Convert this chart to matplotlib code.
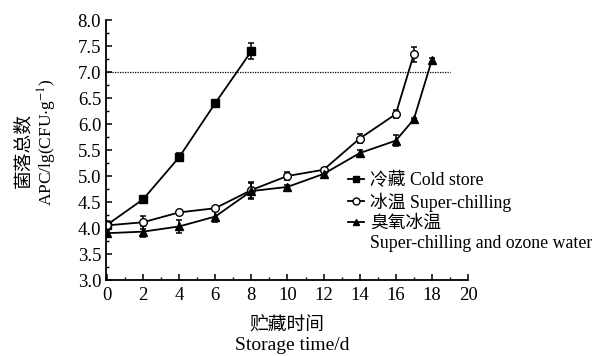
import matplotlib
matplotlib.use("Agg")
import matplotlib.pyplot as plt
from matplotlib.lines import Line2D
from matplotlib.ticker import MultipleLocator

plt.rcParams['font.family'] = ['Liberation Serif', 'Noto Sans CJK SC']
plt.rcParams['mathtext.fontset'] = 'stix'

# Data
cold_x = [0, 2, 4, 6, 8]
cold_y = [4.06, 4.55, 5.36, 6.40, 7.40]
cold_err = [0.08, 0.03, 0.08, 0.07, 0.15]

sc_x = [0, 2, 4, 6, 8, 10, 12, 14, 16, 17]
sc_y = [4.05, 4.11, 4.30, 4.38, 4.73, 5.00, 5.12, 5.72, 6.19, 7.34]
sc_err = [0.05, 0.12, 0.03, 0.03, 0.15, 0.08, 0.04, 0.08, 0.07, 0.15]

oz_x = [0, 2, 4, 6, 8, 10, 12, 14, 16, 17, 18]
oz_y = [3.90, 3.93, 4.03, 4.22, 4.71, 4.79, 5.04, 5.44, 5.68, 6.09, 7.23]
oz_err = [0.05, 0.10, 0.13, 0.10, 0.15, 0.03, 0.03, 0.06, 0.10, 0.02, 0.03]

limit_y = 7.0
limit_x = [0, 19]

labels = ['冷藏 Cold store', '冰温 Super-chilling', '臭氧冰温', 'Super-chilling and ozone water']

fig = plt.figure(figsize=(6.07, 3.56), dpi=100)
ax = fig.add_axes([106/607, 1-280/356, (468-106)/607, 260/356])

ax.plot(limit_x, [limit_y, limit_y], color='black', linestyle=(0, (1, 1)), linewidth=0.9)

common = dict(color='black', linewidth=1.3, capsize=2.5, elinewidth=1.1, capthick=1.1, markersize=5.5)
ax.errorbar(cold_x, cold_y, yerr=cold_err, marker='s', markerfacecolor='black', **common)
ax.errorbar(sc_x, sc_y, yerr=sc_err, marker='o', markerfacecolor='white', **common)
ax.errorbar(oz_x, oz_y, yerr=oz_err, marker='^', markerfacecolor='black', **common)

ax.set_xlim(-0.05, 20)
ax.set_ylim(3.0, 8.0)
ax.xaxis.set_major_locator(MultipleLocator(2))
ax.xaxis.set_minor_locator(MultipleLocator(1))
ax.yaxis.set_major_locator(MultipleLocator(0.5))
ax.yaxis.set_minor_locator(MultipleLocator(0.25))
ax.yaxis.set_major_formatter(plt.FormatStrFormatter('%.1f'))
ax.tick_params(axis='both', which='both', direction='in', labelsize=13.5)
ax.tick_params(which='major', length=4, width=1.1)
ax.tick_params(which='minor', length=2.5, width=1.0)
ax.tick_params(axis='x', pad=5)
ax.spines['top'].set_visible(False)
ax.spines['right'].set_visible(False)
for s in ['left', 'bottom']:
    ax.spines[s].set_linewidth(1.3)

handles = [
    Line2D([], [], color='black', marker='s', markersize=5, linewidth=1.3),
    Line2D([], [], color='black', marker='o', markerfacecolor='white', markersize=5, linewidth=1.3),
    Line2D([], [], color='black', marker='^', markersize=5, linewidth=1.3),
    Line2D([], [], color='none'),
]
fig.legend(handles, labels, loc='upper left', bbox_to_anchor=(348/607, 1-172/356),
           frameon=False, fontsize=12.8, handlelength=0.9, handletextpad=0.35,
           labelspacing=0.18, borderpad=0, borderaxespad=0)

fig.text(24/607, 1-150/356, '菌落总数', rotation=90, ha='center', va='center', fontsize=13.5)
fig.text(47/607, 1-142/356, r'APC/lg(CFU$\cdot$g$^{-1}$)', rotation=90, ha='center', va='center', fontsize=12.5)
fig.text(287/607, 1-325/356, '贮藏时间', ha='center', va='center', fontsize=13.5)
fig.text(292/607, 1-346/356, 'Storage time/d', ha='center', va='center', fontsize=14)

fig.savefig('out.png', dpi=100)
